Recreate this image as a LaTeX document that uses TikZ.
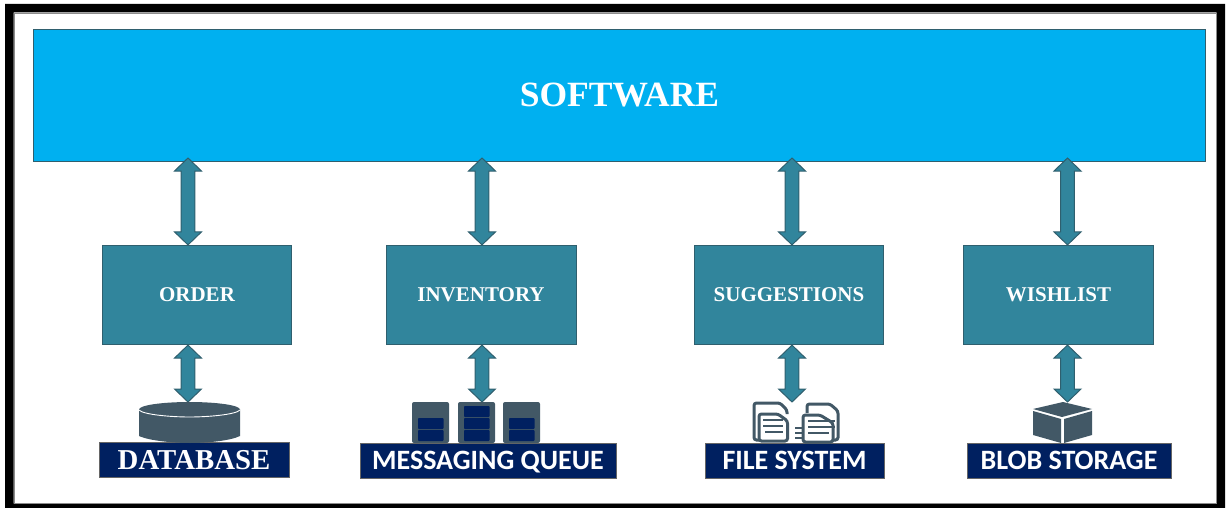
\documentclass[tikz,border=0pt]{standalone}
\usepackage{fontspec}
\setmainfont{Liberation Serif}
\newfontfamily\labelfont{Carlito}
\usetikzlibrary{calc}
\definecolor{skyfill}{HTML}{00B0F0}
\definecolor{tealfill}{HTML}{31859C}
\definecolor{tealedge}{HTML}{2F5F6E}
\definecolor{navyfill}{HTML}{002060}
\definecolor{slateicon}{HTML}{425866}
\tikzset{
  x=1pt,y=-1pt,
  softbox/.style={draw=tealedge,line width=0.7pt,fill=skyfill,minimum width=1172.5pt,minimum height=132.5pt,inner sep=0pt,text=white,font=\bfseries\fontsize{35.5}{38}\selectfont},
  servicebox/.style={draw=tealedge,line width=0.7pt,fill=tealfill,minimum width=189.5pt,minimum height=99.5pt,inner sep=0pt,text=white,font=\bfseries\fontsize{21}{24}\selectfont},
  storelabel/.style={draw=black!60,line width=0.5pt,fill=navyfill,minimum height=34.5pt,inner sep=0pt,text=white,font=\labelfont\bfseries\fontsize{28}{30}\selectfont},
  fatarrow/.style={draw=tealedge,line width=1pt,fill=tealfill,line join=miter,
    to path={let \p1=(\tikztostart),\p2=(\tikztotarget) in
      (\x1,\y1) -- (\x1+13.5,\y1-13) -- (\x1+6.8,\y1-13) -- (\x1+6.8,\y2+13) -- (\x1+13.5,\y2+13)
      -- (\x2,\y2) -- (\x1-13.5,\y2+13) -- (\x1-6.8,\y2+13) -- (\x1-6.8,\y1-13) -- (\x1-13.5,\y1-13) -- cycle}},
  iconfill/.style={fill=slateicon,draw=none},
  slot/.style={fill=navyfill,draw=none,rounded corners=0.8pt},
  docline/.style={draw=slateicon,line width=2.4pt},
  docedge/.style={draw=slateicon,line width=3pt,rounded corners=2.5pt},
}
\begin{document}
\begin{tikzpicture}
\useasboundingbox (0,0) rectangle (1226,508);
% frame
\fill[black,even odd rule] (5,4) rectangle (1225,508) (13.5,12.5) rectangle (1216.5,503.5);
\draw[black!45,line width=0.7pt] (14,13) rectangle (1216,503);
% main boxes
\node[softbox] (software) at (619.5,95.5) {SOFTWARE};
\node[servicebox] (order) at (197,295) {ORDER};
\node[servicebox] (inventory) at (481.5,295) {\hspace*{-1pt}INVENTORY};
\node[servicebox] (suggestions) at (789,295) {SUGGESTIONS};
\node[servicebox] (wishlist) at (1058.5,295) {WISHLIST};
% labels
\node[storelabel,minimum width=190pt,font=\bfseries\fontsize{28.8}{30}\selectfont] (database) at (194,459.8) {DATABASE};
\node[storelabel,minimum width=256pt,text depth=1.5pt,text height=19.5pt] (queue) at (488,460.5) {MESSAGING QUEUE};
\node[storelabel,minimum width=179pt,text depth=1.5pt,text height=19.5pt] (files) at (794.5,460.5) {FILE SYSTEM};
\node[storelabel,minimum width=204pt,text depth=1.5pt,text height=19.5pt] (blob) at (1069,460.5) {BLOB STORAGE};
% connector ends
\coordinate (t1) at (188,158);
\coordinate (t2) at (482,158);
\coordinate (t3) at (792,158);
\coordinate (t4) at (1067.5,158);
\coordinate (b1) at (188,402);
\coordinate (b2) at (482,402);
\coordinate (b3) at (792,402);
\coordinate (b4) at (1067.5,402);
% connectors
\draw[fatarrow] (t1) to (t1 |- order.north);
\draw[fatarrow] (t2) to (t2 |- inventory.north);
\draw[fatarrow] (t3) to (t3 |- suggestions.north);
\draw[fatarrow] (t4) to (t4 |- wishlist.north);
\draw[fatarrow] (b1 |- order.south) to (b1);
\draw[fatarrow] (b2 |- inventory.south) to (b2);
\draw[fatarrow] (b3 |- suggestions.south) to (b3);
\draw[fatarrow] (b4 |- wishlist.south) to (b4);
% database icon
\path[iconfill] (139,409.5) -- (139,436) .. controls (150,441) and (175,443) .. (190,443) .. controls (205,443) and (230,441) .. (240,436) -- (240,409.5) -- cycle;
\fill[slateicon] (189.5,409.5) ellipse [x radius=50.5,y radius=7.5];
\draw[white,line width=0.9pt] (139,410) .. controls (143,414.5) and (170,417) .. (189.5,417) .. controls (209,417) and (236,414.5) .. (240,410);
% server icons
\foreach \sx in {412,458,503}{
  \fill[slateicon,rounded corners=2pt] (\sx,402) rectangle (\sx+37,443);
  \fill[slot] (\sx+6,418) rectangle (\sx+31.5,429);
  \fill[slot] (\sx+6,430) rectangle (\sx+31.5,441);
}
\fill[slot] (464,406) rectangle (489.5,417);
% file icons
\draw[docedge] (761,440) -- (754,440) -- (754,403) -- (780,403) -- (787,410) -- (787,414);
\draw[docedge,fill=white] (759,414) -- (778,414) -- (787.5,421) -- (787.5,441) -- (759,441) -- cycle;
\draw[docline] (763,420) -- (783,420);
\draw[docline] (763,426) -- (783,426);
\draw[docline] (765,432) -- (783,432);
\draw[docedge] (807,413) -- (807,404) -- (830,404) -- (838,411) -- (838,440) -- (830,440);
\draw[docedge,fill=white] (803,415) -- (820,415) -- (833,423) -- (833,442) -- (803,442) -- cycle;
\draw[docline] (808,421) -- (835,421);
\draw[docline] (808,427) -- (835,427);
\draw[docline] (808,433) -- (829,433);
\draw[docline,line width=1.8pt] (795,428) -- (804,428);
\draw[docline,line width=1.8pt] (795,433) -- (804,433);
\draw[docline,line width=1.8pt] (795,438) -- (804,438);
% blob icon
\fill[slateicon] (1033,409) -- (1063,402) -- (1092,409) -- (1062,417) -- cycle;
\fill[slateicon] (1033,411) -- (1061,419) -- (1061,443) -- (1033,435) -- cycle;
\fill[slateicon] (1092,411) -- (1064,419) -- (1064,443) -- (1092,435) -- cycle;
\end{tikzpicture}
\end{document}
